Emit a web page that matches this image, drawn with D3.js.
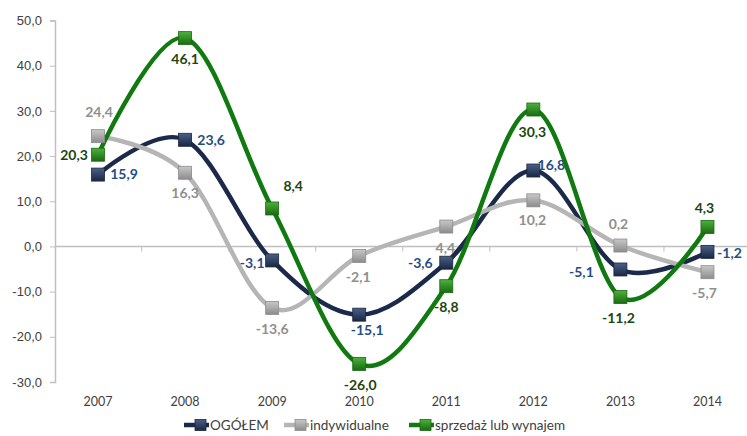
<!DOCTYPE html>
<html>
<head>
<meta charset="utf-8">
<script src="https://cdn.jsdelivr.net/npm/d3@7"></script>
<style>
  body { margin: 0; background: #fff; }
  svg { display: block; font-family: Lato, "Open Sans", sans-serif; }
</style>
</head>
<body>
<svg width="747" height="436"></svg>
<script>
var years = ['2007', '2008', '2009', '2010', '2011', '2012', '2013', '2014'];
var ogolem = [15.9, 23.6, -3.1, -15.1, -3.6, 16.8, -5.1, -1.2];
var indywidualne = [24.4, 16.3, -13.6, -2.1, 4.4, 10.2, 0.2, -5.7];
var sprzedaz = [20.3, 46.1, 8.4, -26.0, -8.8, 30.3, -11.2, 4.3];
var yTicks = [-30, -20, -10, 0, 10, 20, 30, 40, 50];
var seriesNames = ['OGÓŁEM', 'indywidualne', 'sprzedaż lub wynajem'];

// layout: label offsets (text centre x, baseline y) from each marker
var labelOffsets = [
  [[26, 4], [26, 5], [-20, 8], [8, 20], [-26, 5], [18, -1], [-39, 8], [22, 6]],
  [[1, -19], [0, 25], [0, 26], [-1, 26], [-1, 26], [-1, 25], [-2, -17], [-3, 26]],
  [[-24, 5], [0, 26], [21, -17], [1, 26], [0, 26], [-1, 27], [-2, 26], [-3, -14]]
];

var series = [
  {name: seriesNames[0], values: ogolem, line: '#1c2a4a', light: '#4a6088', dark: '#1a2742', text: '#1f4e86'},
  {name: seriesNames[1], values: indywidualne, line: '#b5b5b5', light: '#c8c8c8', dark: '#8c8c8c', text: '#8f8f8f'},
  {name: seriesNames[2], values: sprzedaz, line: '#107a10', light: '#4cb13a', dark: '#1a6a12', text: '#1d4510'}
];

var svg = d3.select('svg');

var x = d3.scalePoint().domain(years).range([54.5, 751]).padding(0.5);
var y = d3.scaleLinear().domain([-30, 50]).range([382, 20.5]);
var step = x.step();

// gradients for the bevelled markers
var defs = svg.append('defs');
series.forEach(function(s, i){
  var g = defs.append('linearGradient').attr('id', 'mk' + i)
    .attr('x1', 0).attr('y1', 0).attr('x2', 0).attr('y2', 1);
  g.append('stop').attr('offset', '0%').attr('stop-color', s.light);
  g.append('stop').attr('offset', '100%').attr('stop-color', s.dark);
});

var fmt = function(v){ return d3.format('.1f')(v).replace('.', ',').replace('−', '-'); };

// y axis
var yAxis = svg.append('g').attr('transform', 'translate(55,0)')
  .call(d3.axisLeft(y).tickValues(yTicks).tickSize(5).tickPadding(8).tickFormat(fmt));
yAxis.select('.domain').attr('stroke', '#bfbfbf').attr('stroke-width', 1.5);
yAxis.selectAll('.tick line').attr('stroke', '#bfbfbf');
yAxis.selectAll('text').attr('fill', '#404040').style('font-size', '13px');

// zero line with category ticks
svg.append('line').attr('x1', 55).attr('x2', 747)
  .attr('y1', y(0)).attr('y2', y(0))
  .attr('stroke', '#bfbfbf').attr('stroke-width', 1.5);
svg.selectAll('.xtick').data(years.slice(1)).enter().append('line')
  .attr('x1', function(d){ return x(d) - step / 2; })
  .attr('x2', function(d){ return x(d) - step / 2; })
  .attr('y1', y(0)).attr('y2', y(0) + 5)
  .attr('stroke', '#bfbfbf');

// year labels at the bottom
svg.selectAll('.year').data(years).enter().append('text')
  .attr('x', function(d){ return x(d); })
  .attr('y', 406)
  .attr('text-anchor', 'middle')
  .attr('fill', '#404040')
  .style('font-size', '12.5px')
  .text(function(d){ return d; });

var line = d3.line()
  .x(function(d, i){ return x(years[i]); })
  .y(function(d){ return y(d); })
  .curve(d3.curveCardinal.tension(0));

series.forEach(function(s, si){
  svg.append('path').datum(s.values)
    .attr('d', line)
    .attr('fill', 'none')
    .attr('stroke', s.line)
    .attr('stroke-width', 4.5);
});

series.forEach(function(s, si){
  svg.selectAll('.mk' + si).data(s.values).enter().append('rect')
    .attr('x', function(d, i){ return x(years[i]) - 6.5; })
    .attr('y', function(d){ return y(d) - 6.5; })
    .attr('width', 13).attr('height', 13)
    .attr('fill', 'url(#mk' + si + ')')
    .attr('stroke', s.dark).attr('stroke-width', 0.8);
});

series.forEach(function(s, si){
  svg.selectAll('.lb' + si).data(s.values).enter().append('text')
    .attr('x', function(d, i){ return x(years[i]) + labelOffsets[si][i][0]; })
    .attr('y', function(d, i){ return y(d) + labelOffsets[si][i][1]; })
    .attr('text-anchor', 'middle')
    .attr('fill', s.text)
    .style('font-size', '14px')
    .style('font-weight', 'bold')
    .text(fmt);
});

// legend
var legendX = [184, 284, 409];
var legend = svg.selectAll('.legend').data(series).enter().append('g')
  .attr('transform', function(d, i){ return 'translate(' + legendX[i] + ',425)'; });
legend.append('line').attr('x1', 0).attr('x2', 25).attr('y1', 0).attr('y2', 0)
  .attr('stroke', function(d){ return d.line; }).attr('stroke-width', 4.5);
legend.append('rect').attr('x', 11).attr('y', -5.5).attr('width', 11).attr('height', 11)
  .attr('fill', function(d, i){ return 'url(#mk' + i + ')'; })
  .attr('stroke', function(d){ return d.dark; }).attr('stroke-width', 0.8);
legend.append('text').attr('x', 26).attr('y', 5)
  .attr('fill', '#404040')
  .style('font-size', '13.5px')
  .text(function(d){ return d.name; });
</script>
</body>
</html>
